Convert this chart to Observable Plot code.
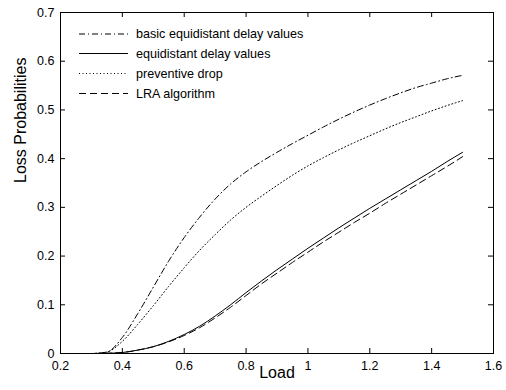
<!DOCTYPE html>
<html><head><meta charset="utf-8">
<script src="https://cdn.jsdelivr.net/npm/d3@7"></script>
<script src="https://cdn.jsdelivr.net/npm/@observablehq/plot@0.6"></script>
<style>
body{margin:0;background:#fff;}
#wrap{position:relative;width:506px;height:390px;font-family:"Liberation Sans",Arial,Helvetica,sans-serif;}
#legend{position:absolute;left:0;top:0;pointer-events:none;}
</style></head><body><div id="wrap"></div>
<script>
const loads = [0.2,0.25,0.3,0.35,0.4,0.45,0.5,0.55,0.6,0.65,0.7,0.75,0.8,0.85,0.9,0.95,1.0,1.05,1.1,1.15,1.2,1.25,1.3,1.35,1.4,1.45,1.5];
const basicEquidistant = [0,0,0,0.003,0.033,0.082,0.136,0.19,0.238,0.28,0.317,0.348,0.373,0.394,0.413,0.431,0.448,0.465,0.481,0.496,0.510,0.523,0.535,0.546,0.555,0.564,0.571];
const equidistant = [0,0,0,0.0005,0.002,0.007,0.014,0.025,0.039,0.056,0.077,0.1,0.125,0.149,0.172,0.194,0.216,0.237,0.258,0.278,0.298,0.317,0.336,0.355,0.374,0.394,0.413];
const preventive = [0,0,0,0.003,0.025,0.06,0.098,0.138,0.176,0.212,0.244,0.274,0.3,0.323,0.345,0.366,0.385,0.402,0.418,0.433,0.447,0.461,0.474,0.486,0.498,0.509,0.519];
const lra = [0,0,0,0.0005,0.002,0.007,0.014,0.024,0.037,0.053,0.073,0.095,0.119,0.143,0.165,0.187,0.208,0.229,0.249,0.269,0.288,0.308,0.327,0.346,0.365,0.384,0.404];
const seriesNames = ["basic equidistant delay values","equidistant delay values","preventive drop","LRA algorithm"];
const xTicks = [0.2,0.4,0.6,0.8,1,1.2,1.4,1.6];
const yTicks = [0,0.1,0.2,0.3,0.4,0.5,0.6,0.7];
const xLabel = "Load";
const yLabel = "Loss Probabilities";

const seriesValues = [basicEquidistant, equidistant, preventive, lra];
const dashes = ["6,3,1,3", "none", "1,2.5", "7,4"];

const W = 506, H = 390, mL = 60, mR = 13, mT = 12, mB = 37;
const frameW = W - mL - mR, frameH = H - mT - mB, tk = 5;
const font = '"Liberation Sans",Arial,Helvetica,sans-serif';

const lineMarks = seriesValues.map((vals, i) => {
  const rows = loads.map((x, j) => ({load: x, value: vals[j]}));
  return Plot.line(rows, {x: "load", y: "value", stroke: "#000", strokeWidth: 1,
    strokeDasharray: dashes[i], curve: "monotone-x"});
});

const plot = Plot.plot({
  width: W, height: H,
  marginLeft: mL, marginRight: mR, marginTop: mT, marginBottom: mB,
  style: {fontFamily: font, fontSize: "12px", color: "#000", background: "#fff"},
  x: {domain: [0.2, 1.6]},
  y: {domain: [0, 0.7]},
  marks: [
    Plot.ruleX(xTicks, {x: d => d, insetTop: frameH - tk, stroke: "#000"}),
    Plot.ruleX(xTicks, {x: d => d, insetBottom: frameH - tk, stroke: "#000"}),
    Plot.ruleY(yTicks, {y: d => d, insetRight: frameW - tk, stroke: "#000"}),
    Plot.ruleY(yTicks, {y: d => d, insetLeft: frameW - tk, stroke: "#000"}),
    Plot.axisX({ticks: xTicks, tickSize: 0, tickPadding: 8, tickFormat: d => String(+d.toFixed(1)), label: null, fontSize: 12.5}),
    Plot.axisY({ticks: yTicks, tickSize: 0, tickPadding: 6, tickFormat: d => String(+d.toFixed(1)), label: null, fontSize: 12.5}),
    ...lineMarks,
    Plot.frame({stroke: "#000", strokeWidth: 1}),
    Plot.text([xLabel], {frameAnchor: "bottom", dy: 24, fontSize: 16, text: d => d}),
    Plot.text([yLabel], {frameAnchor: "left", dx: -40, rotate: -90, fontSize: 16, text: d => d})
  ]
});
const wrap = document.getElementById("wrap");
wrap.appendChild(plot);

// legend overlay
const leg = d3.select(wrap).append("svg").attr("id", "legend")
  .attr("width", W).attr("height", 120);
const rowY = [34, 53.5, 73.5, 93.5];
seriesNames.forEach((name, i) => {
  leg.append("line").attr("x1", 79).attr("x2", 128).attr("y1", rowY[i]).attr("y2", rowY[i])
    .attr("stroke", "#000").attr("stroke-width", 1)
    .attr("stroke-dasharray", dashes[i]);
  leg.append("text").attr("x", 136).attr("y", rowY[i]).attr("dy", "0.35em")
    .attr("font-family", font).attr("font-size", 12.6).attr("fill", "#000").text(name);
});
</script></body></html>
